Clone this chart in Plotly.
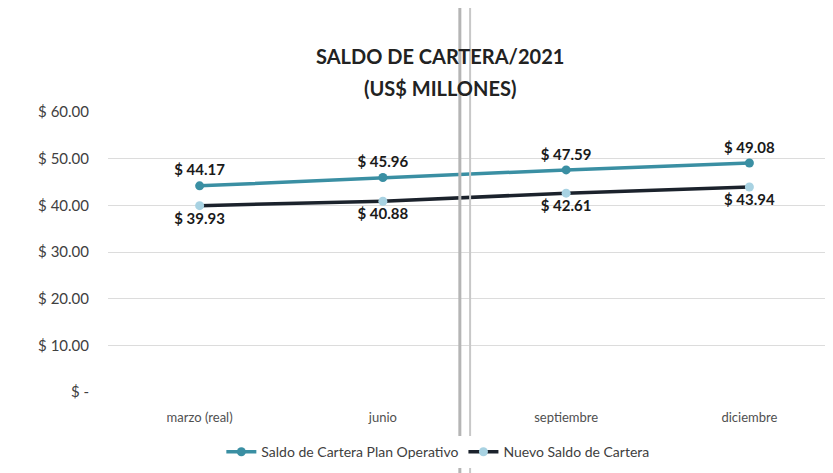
import plotly.graph_objects as go

categories = ["marzo (real)", "junio", "septiembre", "diciembre"]
plan_operativo = [44.17, 45.96, 47.59, 49.08]
nuevo_saldo = [39.93, 40.88, 42.61, 43.94]
tick_vals = [0, 10, 20, 30, 40, 50, 60]
tick_text = ["$ -", "$ 10.00", "$ 20.00", "$ 30.00", "$ 40.00", "$ 50.00", "$ 60.00"]
title_lines = ["SALDO DE CARTERA/2021", "(US$ MILLONES)"]

def fmt(v):
    return [f"$ {x:.2f}" for x in v]

FONT = "Lato"

fig = go.Figure()
fig.add_trace(go.Scatter(
    x=categories, y=plan_operativo, name="Saldo de Cartera Plan Operativo",
    mode="lines+markers+text",
    line=dict(color="#3A8FA3", width=3.5),
    marker=dict(color="#3A8FA3", size=9),
    text=fmt(plan_operativo), textposition="top center",
    textfont=dict(family=FONT, size=15, color="#1a1a1a", weight="bold"),
))
fig.add_trace(go.Scatter(
    x=categories, y=nuevo_saldo, name="Nuevo Saldo de Cartera",
    mode="lines+markers+text",
    line=dict(color="#1B222C", width=3.5),
    marker=dict(color="#A8D2E2", size=9),
    text=fmt(nuevo_saldo), textposition="bottom center",
    textfont=dict(family=FONT, size=15, color="#1a1a1a", weight="bold"),
))

fig.update_layout(
    width=833, height=473,
    margin=dict(l=100, r=0, t=104, b=89),
    paper_bgcolor="white", plot_bgcolor="white",
    font=dict(family=FONT, color="#404040"),
    showlegend=True,
    legend=dict(
        orientation="h", x=0.45, xanchor="center", y=-0.215, yanchor="middle",
        font=dict(family=FONT, size=14, color="#404040"),
        itemwidth=30, tracegroupgap=0,
    ),
    xaxis=dict(
        type="category", showgrid=False, zeroline=False, showline=False,
        ticks="", tickfont=dict(family=FONT, size=13, color="#505050"),
        ticklabelstandoff=16, range=[-0.5, 3.5],
    ),
    yaxis=dict(
        range=[0, 60], tickvals=tick_vals, ticktext=tick_text,
        showgrid=True, gridcolor="#DCDCDC", gridwidth=1, zeroline=False,
        showline=False, ticks="", ticklabelstandoff=18,
        tickfont=dict(family=FONT, size=15, color="#404040"),
    ),
    annotations=[
        dict(text=title_lines[0], xref="paper", yref="paper", x=0.453, y=1.2,
             xanchor="center", yanchor="middle", showarrow=False,
             font=dict(family=FONT, size=20, color="#222222", weight="bold")),
        dict(text=title_lines[1], xref="paper", yref="paper", x=0.453, y=1.086,
             xanchor="center", yanchor="middle", showarrow=False,
             font=dict(family=FONT, size=20, color="#222222", weight="bold")),
    ],
    shapes=[
        dict(type="line", xref="paper", yref="paper", x0=0.480, x1=0.480, y0=-0.4, y1=1.45,
             line=dict(color="#B5B5B5", width=3)),
        dict(type="line", xref="paper", yref="paper", x0=0.494, x1=0.494, y0=-0.4, y1=1.45,
             line=dict(color="#C8C8C8", width=2)),
    ],
)

fig.write_html("out.html")
